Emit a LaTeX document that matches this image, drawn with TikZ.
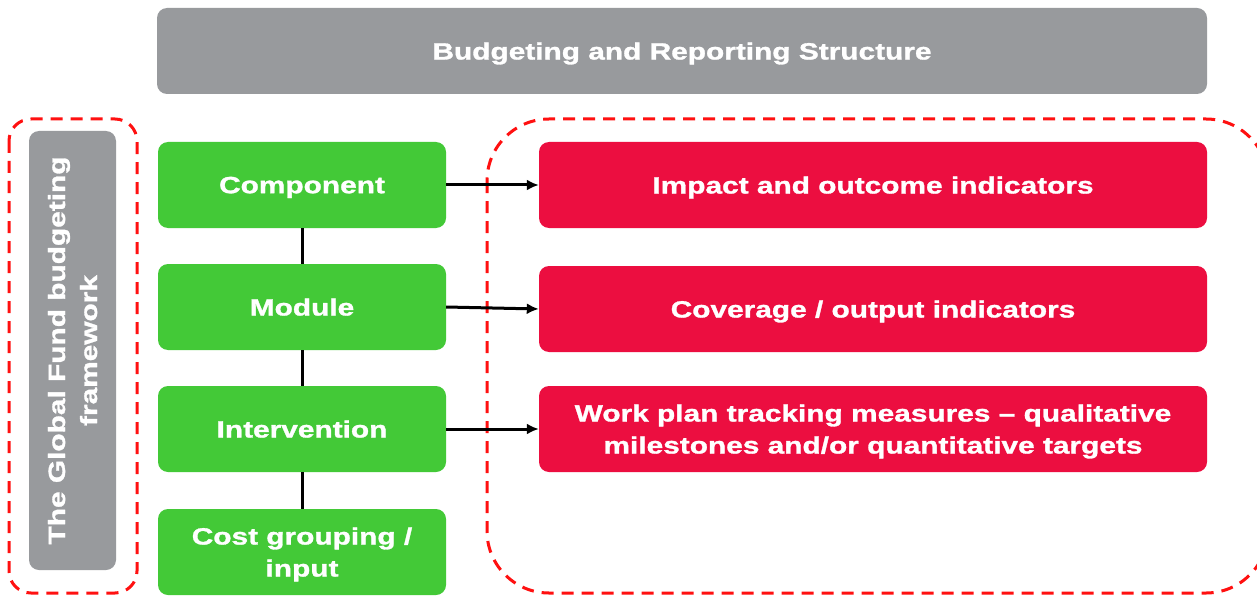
\documentclass[tikz,border=0pt]{standalone}
\usepackage{fontspec}
\setmainfont{Liberation Sans}
\newfontfamily\boxfont{Liberation Sans}[FakeStretch=1.27, FakeBold=1.3, Ligatures=TeX]
\usetikzlibrary{arrows.meta}
\definecolor{gbox}{HTML}{43C937}
\definecolor{rbox}{HTML}{EC0E40}
\definecolor{graybox}{HTML}{989A9D}
\definecolor{dashred}{HTML}{FF1010}
\tikzset{
  boxtext/.style={text=white, font=\boxfont\bfseries\fontsize{23.5}{32}\selectfont, align=center, text depth=0pt},
  base/.style={rounded corners=10pt, draw=none, boxtext, inner sep=0pt},
  greenbox/.style={base, fill=gbox, minimum width=288pt, minimum height=86pt},
  redbox/.style={base, fill=rbox, minimum width=668pt, minimum height=86pt},
  graybar/.style={base, fill=graybox},
  frame/.style={draw=dashred, line width=3pt, dash pattern=on 12pt off 8pt},
  link/.style={line width=3pt, black},
  arr/.style={line width=3pt, black, -{Latex[length=12pt,width=11pt]}}
}
\begin{document}
\begin{tikzpicture}[x=1pt,y=-1pt]
\useasboundingbox (0,0) rectangle (1257,596);
\fill[white] (0,0) rectangle (1257,596);
\begin{scope}
\clip (0,0) rectangle (1257,596);
% frames
\draw[frame, rounded corners=22pt] (9,119) rectangle (137,593);
\draw[frame, rounded corners=62pt] (487,119) rectangle (1268,593);
% top bar
\node[graybar, minimum width=1050pt, minimum height=86pt] (top) at (682,51) {Budgeting and Reporting Structure};
% side bar
\node[graybar, minimum width=87pt, minimum height=439pt] (side) at (72.5,350.5) {};
\node[boxtext, rotate=90] (sidetext) at (side.center) {The Global Fund budgeting\\framework};
% green boxes
\node[greenbox] (comp) at (302,185) {Component};
\node[greenbox] (mod) at (302,307) {Module};
\node[greenbox] (int) at (302,429) {Intervention};
\node[greenbox] (cost) at (302,552) {Cost grouping /\\input};
% red boxes
\node[redbox] (impact) at (873,185) {Impact and outcome indicators};
\node[redbox] (cov) at (873,309) {Coverage / output indicators};
\node[redbox] (work) at (873,429) {Work plan tracking measures – qualitative\\milestones and/or quantitative targets};
% links
\draw[link] (comp) -- (mod);
\draw[link] (mod) -- (int);
\draw[link] (int) -- (cost);
\draw[arr] (comp.east) -- (impact.west);
\draw[arr] (mod.east) -- (cov.west);
\draw[arr] (int.east) -- (work.west);
\end{scope}
\end{tikzpicture}
\end{document}
